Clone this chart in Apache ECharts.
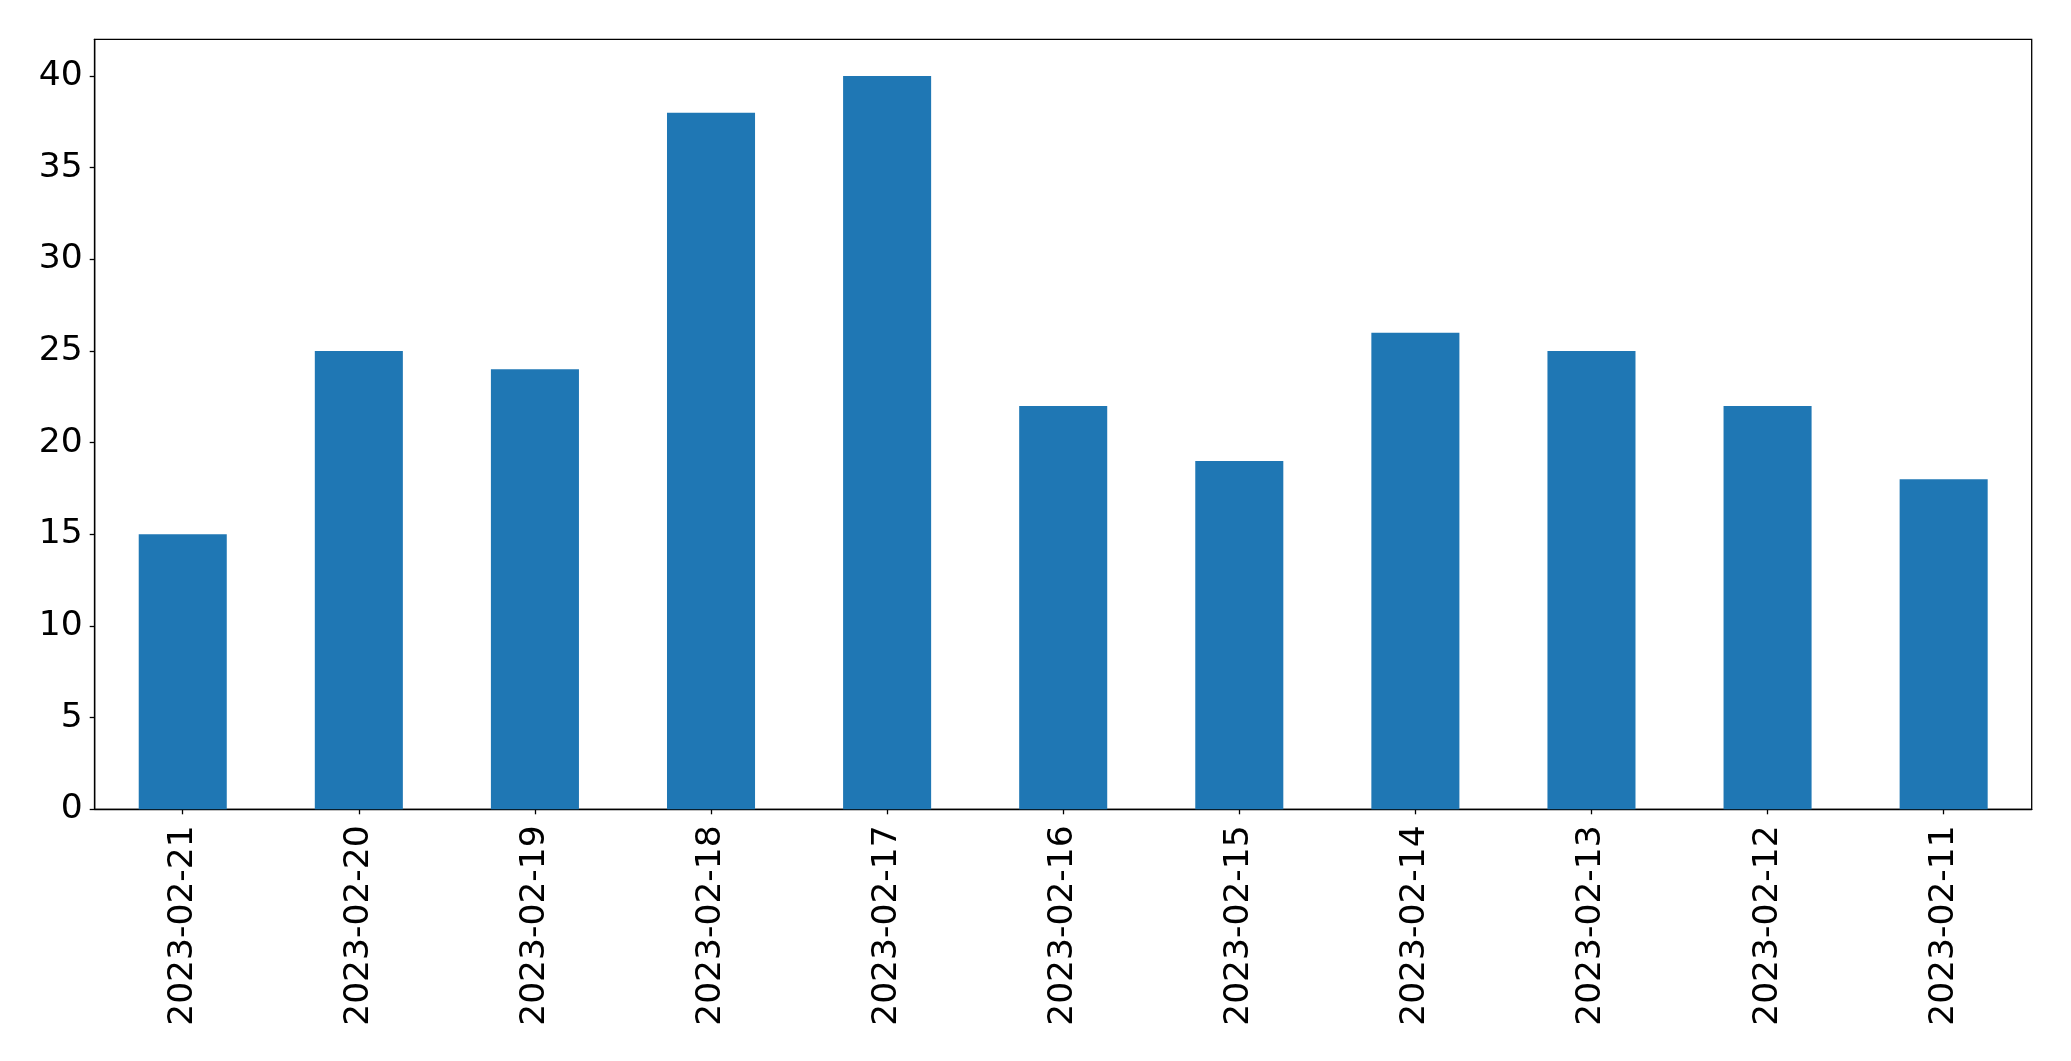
<!DOCTYPE html>
<html><head><meta charset="utf-8">
<script src="https://cdn.jsdelivr.net/npm/echarts@6/dist/echarts.min.js"></script>
<style>html,body{margin:0;padding:0;background:#fff}#c{width:2071px;height:1061px}</style>
</head><body><div id="c"></div>
<script>
const categories = ["2023-02-21","2023-02-20","2023-02-19","2023-02-18","2023-02-17","2023-02-16","2023-02-15","2023-02-14","2023-02-13","2023-02-12","2023-02-11"];
const values = [15, 25, 24, 38, 40, 22, 19, 26, 25, 22, 18];
const yTicks = [0, 5, 10, 15, 20, 25, 30, 35, 40];

const chart = echarts.init(document.getElementById('c'), null, {renderer: 'canvas'});
chart.setOption({
  animation: false,
  grid: {left: 94.7, right: 39.3, top: 39.3, bottom: 251.7, show: true, borderColor: '#000', borderWidth: 1.3, containLabel: false},
  xAxis: {
    type: 'category', data: categories, boundaryGap: true,
    axisLine: {show: true, lineStyle: {color: '#000', width: 1.3}},
    axisTick: {show: true, alignWithLabel: true, length: 5, lineStyle: {color: '#000', width: 1.3}},
    axisLabel: {rotate: 90, margin: 16, color: '#000', fontSize: 34.5, fontFamily: 'DejaVu Sans', interval: 0}
  },
  yAxis: {
    type: 'value', min: 0, max: 42, interval: 5,
    splitLine: {show: false},
    axisLine: {show: true, lineStyle: {color: '#000', width: 1.3}},
    axisTick: {show: true, length: 5, lineStyle: {color: '#000', width: 1.3}},
    axisLabel: {margin: 12, color: '#000', fontSize: 34.5, fontFamily: 'DejaVu Sans', showMaxLabel: false,
      formatter: v => yTicks.includes(v) ? String(v) : ''}
  },
  series: [{type: 'bar', data: values, barWidth: '50%', itemStyle: {color: '#1f77b4'}}]
});
</script></body></html>
